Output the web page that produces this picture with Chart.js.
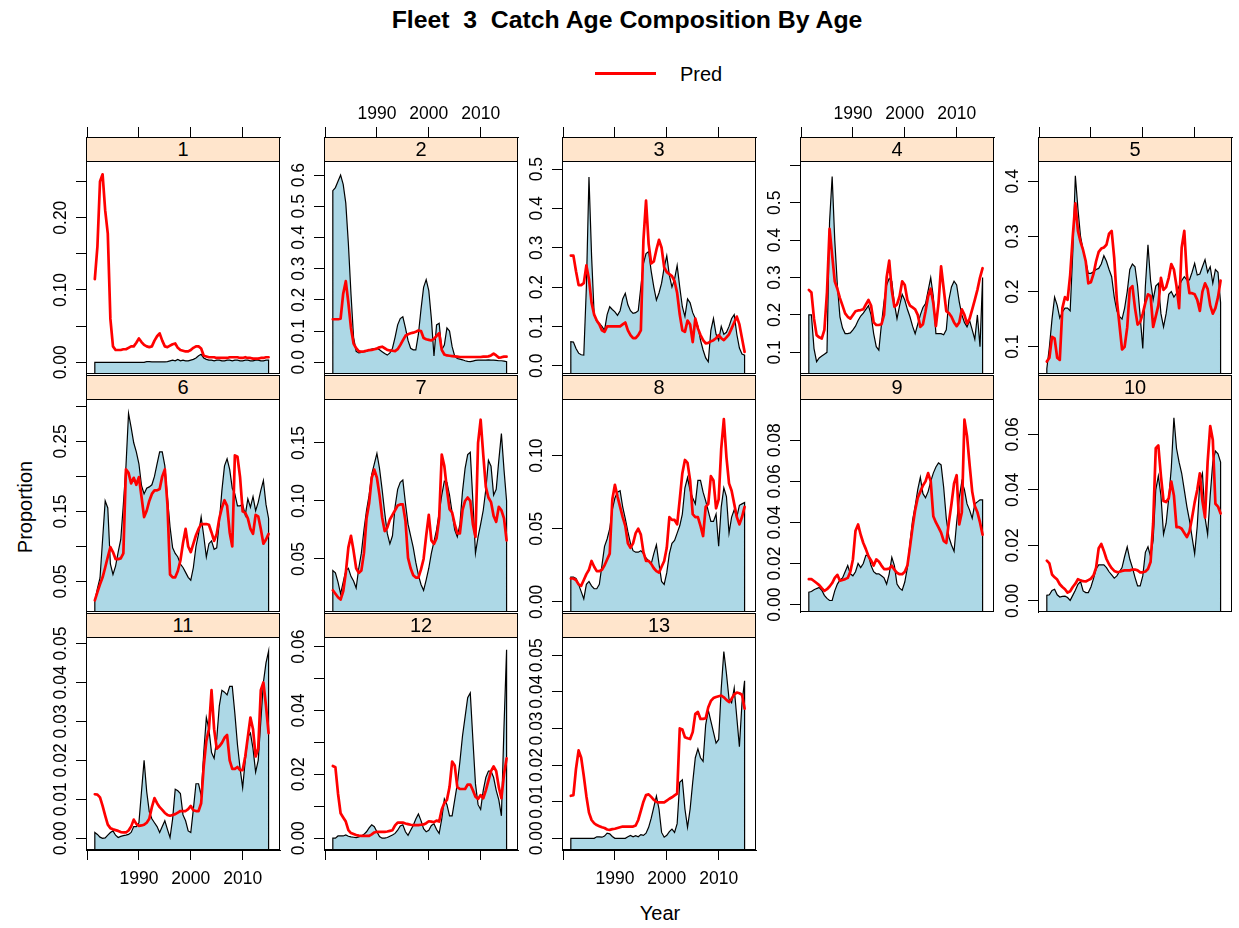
<!DOCTYPE html>
<html>
<head>
<meta charset="utf-8">
<title>Fleet 3 Catch Age Composition By Age</title>
<script src="https://cdn.jsdelivr.net/npm/chart.js@4.4.1/dist/chart.umd.min.js"></script>
<style>
body { margin: 0; background: #fff; font-family: "Liberation Sans", Arial, sans-serif; color: #000; }
#page { position: relative; width: 1239px; height: 928px; overflow: hidden; background: #fff; }
#page canvas { position: absolute; }
.strip { position: absolute; box-sizing: border-box; border: 1px solid #000; background: #FFE5CC;
         font-size: 20px; line-height: 23px; text-align: center; z-index: 2; }
.txt { position: absolute; white-space: pre; transform: translate(-50%, -50%); }
#title { left: 627px; top: 20px; font-size: 24.8px; font-weight: bold; }
#ylab { left: 25px; top: 507px; font-size: 20px; transform: translate(-50%, -50%) rotate(-90deg); }
#xlab { left: 660px; top: 913px; font-size: 20px; }
#legline { position: absolute; left: 595px; top: 72px; width: 61px; height: 2.5px; background: #FF0000; }
#legtxt { left: 701px; top: 74px; font-size: 20px; }
</style>
</head>
<body>
<div id="page">
  <div id="title" class="txt">Fleet  3  Catch Age Composition By Age</div>
  <div id="legline"></div>
  <div id="legtxt" class="txt">Pred</div>
  <div id="ylab" class="txt">Proportion</div>
  <div id="xlab" class="txt">Year</div>
</div>
<script>
// years of the composition samples (half-year steps)
const YEARS = [1981.5,1982,1982.5,1983,1983.5,1984,1984.5,1985,1985.5,1986,
    1986.5,1987,1987.5,1988,1988.5,1989,1989.5,1990,1990.5,1991,
    1991.5,1992,1992.5,1993,1993.5,1994,1994.5,1995,1995.5,1996,
    1996.5,1997,1997.5,1998,1998.5,1999,1999.5,2000,2000.5,2001,
    2001.5,2002,2002.5,2003,2003.5,2004,2004.5,2005,2005.5,2006,
    2006.5,2007,2007.5,2008,2008.5,2009,2009.5,2010,2010.5,2011,
    2011.5,2012,2012.5,2013,2013.5,2014,2014.5,2015]

const AGES = ['1','2','3','4','5','6','7','8','9','10','11','12','13']

/////////////////////////////////////////////////////////
// observed proportions (blue polygons)
const OBS_1 = [0,0,0,0,0,0,0,0,0,0, 0,0,0,0,0,0,0,0,0,0,
    0.001,0.001,0.0005,0.0005,0.0005,0.0005,0.0005,0.0005,0.001,0.002,
    0.003,0.002,0.004,0.002,0.003,0.002,0.002,0.003,0.004,0.006,
    0.009,0.011,0.006,0.004,0.003,0.003,0.002,0.003,0.003,0.002,
    0.002,0.003,0.003,0.002,0.003,0.003,0.002,0.002,0.003,0.003,
    0.002,0.002,0.003,0.003,0.002,0.002,0.003,0.003]
const OBS_2 = [0.55,0.56,0.58,0.6,0.57,0.51,0.38,0.22,0.08,0.035,
    0.03,0.032,0.034,0.035,0.04,0.042,0.044,0.045,0.04,0.034,
    0.028,0.023,0.03,0.045,0.08,0.12,0.14,0.146,0.11,0.07,
    0.045,0.04,0.04,0.09,0.17,0.24,0.265,0.23,0.14,0.02,
    0.12,0.125,0.04,0.055,0.11,0.1,0.05,0.02,0.012,0.01,
    0.008,0.005,0.003,0.002,0.004,0.006,0.007,0.007,0.007,0.007,
    0.008,0.007,0.007,0.006,0.005,0.005,0.004,0.002]
const OBS_3 = [0.061,0.06,0.044,0.032,0.028,0.027,0.2,0.48,0.28,0.13,
    0.112,0.108,0.1,0.09,0.13,0.15,0.143,0.137,0.128,0.14,
    0.17,0.184,0.155,0.14,0.133,0.135,0.14,0.2,0.26,0.285,
    0.29,0.24,0.2,0.167,0.185,0.21,0.25,0.28,0.23,0.2,
    0.22,0.255,0.2,0.15,0.125,0.17,0.16,0.135,0.12,0.1,
    0.065,0.04,0.02,0.01,0.09,0.12,0.08,0.065,0.1,0.08,
    0.085,0.1,0.12,0.13,0.08,0.045,0.03,0.027]
const OBS_4 = [0.2,0.2,0.11,0.075,0.085,0.09,0.095,0.1,0.45,0.57,
    0.4,0.28,0.195,0.165,0.15,0.15,0.152,0.16,0.17,0.185,
    0.197,0.205,0.215,0.225,0.2,0.15,0.115,0.106,0.175,0.235,
    0.28,0.298,0.29,0.23,0.19,0.225,0.255,0.24,0.215,0.195,
    0.17,0.15,0.175,0.2,0.22,0.23,0.265,0.3,0.249,0.15,
    0.15,0.15,0.147,0.16,0.24,0.275,0.29,0.28,0.235,0.2,
    0.18,0.168,0.185,0.16,0.135,0.2,0.115,0.3]
const OBS_5 = [0.06,0.1,0.15,0.19,0.175,0.152,0.163,0.17,0.17,0.165,
    0.27,0.41,0.35,0.3,0.275,0.255,0.233,0.233,0.236,0.24,
    0.242,0.25,0.265,0.255,0.24,0.227,0.19,0.165,0.155,0.15,
    0.17,0.2,0.24,0.25,0.245,0.21,0.155,0.097,0.21,0.285,
    0.22,0.185,0.21,0.215,0.16,0.136,0.16,0.195,0.2,0.19,
    0.197,0.21,0.22,0.227,0.221,0.221,0.235,0.251,0.23,0.232,
    0.245,0.258,0.235,0.245,0.215,0.24,0.235,0.18]
const OBS_6 = [0.022,0.04,0.055,0.11,0.165,0.155,0.075,0.06,0.072,0.092,
    0.11,0.16,0.214,0.29,0.27,0.248,0.235,0.218,0.187,0.175,
    0.183,0.185,0.188,0.2,0.218,0.235,0.235,0.215,0.17,0.128,
    0.098,0.09,0.085,0.075,0.07,0.063,0.056,0.052,0.07,0.1,
    0.118,0.142,0.115,0.085,0.104,0.108,0.096,0.098,0.135,0.18,
    0.215,0.225,0.21,0.183,0.175,0.158,0.158,0.16,0.145,0.168,
    0.156,0.171,0.151,0.163,0.18,0.194,0.16,0.14]
const OBS_7 = [0.04,0.038,0.03,0.02,0.03,0.04,0.042,0.035,0.031,0.025,
    0.042,0.055,0.075,0.092,0.105,0.123,0.132,0.141,0.128,0.11,
    0.09,0.072,0.063,0.07,0.095,0.11,0.116,0.118,0.098,0.08,
    0.07,0.06,0.047,0.036,0.028,0.023,0.032,0.042,0.055,0.065,
    0.075,0.09,0.105,0.117,0.116,0.105,0.09,0.075,0.069,0.08,
    0.108,0.128,0.14,0.142,0.1,0.055,0.069,0.08,0.092,0.11,
    0.135,0.13,0.105,0.11,0.135,0.158,0.127,0.1]
const OBS_8 = [0.017,0.017,0.016,0.012,0.007,0.002,0.012,0.014,0.011,0.009,
    0.009,0.012,0.025,0.038,0.043,0.05,0.063,0.071,0.075,0.076,
    0.065,0.057,0.048,0.04,0.035,0.034,0.034,0.035,0.033,0.03,
    0.028,0.026,0.033,0.039,0.026,0.014,0.012,0.02,0.033,0.04,
    0.042,0.047,0.052,0.06,0.078,0.085,0.076,0.071,0.067,0.083,
    0.083,0.075,0.069,0.062,0.055,0.055,0.06,0.038,0.065,0.078,
    0.072,0.047,0.058,0.063,0.058,0.066,0.067,0.068]
const OBS_9 = [0.006,0.0064,0.0072,0.0078,0.0083,0.007,0.0045,0.003,0.002,0.002,
    0.0067,0.01,0.012,0.013,0.016,0.019,0.015,0.014,0.016,0.02,
    0.018,0.02,0.024,0.024,0.019,0.016,0.015,0.015,0.014,0.013,
    0.01,0.015,0.023,0.019,0.01,0.008,0.007,0.011,0.018,0.03,
    0.041,0.048,0.056,0.062,0.054,0.052,0.055,0.06,0.064,0.067,
    0.069,0.068,0.057,0.042,0.033,0.029,0.026,0.04,0.052,0.06,
    0.056,0.049,0.046,0.042,0.049,0.05,0.051,0.051]
const OBS_10 = [0.002,0.0022,0.0038,0.0042,0.0022,0.0014,0.0016,0.0017,0.0012,0.0002,
    0.002,0.0038,0.006,0.007,0.0036,0.003,0.003,0.005,0.008,0.0115,
    0.013,0.013,0.013,0.012,0.0105,0.0094,0.0082,0.009,0.0105,0.012,
    0.016,0.0195,0.015,0.012,0.0085,0.0054,0.0054,0.009,0.0175,0.0195,
    0.016,0.022,0.04,0.045,0.038,0.024,0.028,0.037,0.048,0.066,
    0.055,0.05,0.046,0.04,0.034,0.029,0.023,0.017,0.027,0.043,
    0.046,0.03,0.024,0.038,0.05,0.054,0.053,0.05]
const OBS_11 = [0.0015,0.001,0.0003,0,0.0001,0.0008,0.0015,0.0019,0.0008,0.0002,
    0.0005,0.0007,0.0008,0.001,0.0015,0.003,0.003,0.004,0.012,0.02,
    0.012,0.0068,0.005,0.004,0.003,0.0015,0.003,0.0045,0.0023,0.0002,
    0.005,0.0126,0.0122,0.0115,0.006,0.0045,0.0019,0.0015,0.0075,0.014,
    0.014,0.011,0.022,0.031,0.028,0.022,0.0205,0.0255,0.034,0.038,
    0.0375,0.0368,0.039,0.039,0.032,0.024,0.018,0.013,0.02,0.026,
    0.027,0.023,0.017,0.02,0.03,0.04,0.045,0.048]
const OBS_12 = [0,0,0.0007,0.0007,0.0007,0.001,0.0006,0.0004,0.0003,0.0002,
    0.0004,0.0007,0.0012,0.002,0.0032,0.0042,0.0036,0.002,0.0005,0,
    0,0.0002,0.0006,0.001,0.0015,0.0025,0.0038,0.0042,0.002,0.0009,
    0.0025,0.004,0.006,0.0076,0.0055,0.003,0.002,0.0025,0.004,0.0045,
    0.0027,0.0015,0.006,0.0123,0.0105,0.007,0.007,0.012,0.017,0.024,
    0.032,0.038,0.044,0.0455,0.031,0.017,0.0105,0.009,0.015,0.019,
    0.021,0.021,0.019,0.015,0.012,0.007,0.035,0.059]
const OBS_13 = [0,0,0,0,0,0,0,0,0,0,
    0.0004,0.0004,0.0003,0.0006,0.0014,0.0012,0.0005,0,0,0,
    0,0,0.0004,0.0008,0.0004,0.0007,0.0004,0.001,0.0008,0.0014,
    0.003,0.0055,0.0085,0.0115,0.008,0.0016,0.0003,0.0008,0.0018,0.0025,
    0.0016,0.004,0.0153,0.016,0.008,0.003,0.008,0.0153,0.022,0.0244,
    0.022,0.021,0.031,0.035,0.032,0.029,0.026,0.027,0.041,0.051,
    0.045,0.038,0.037,0.041,0.033,0.025,0.037,0.043]

// predicted proportions (red lines)
const PRED_1 = [0.115,0.16,0.25,0.26,0.21,0.178,0.06,0.022,0.017,0.017,
    0.017,0.018,0.018,0.02,0.022,0.022,0.027,0.033,0.028,0.024,
    0.022,0.021,0.022,0.03,0.036,0.04,0.03,0.022,0.021,0.023,
    0.025,0.026,0.02,0.017,0.016,0.015,0.015,0.017,0.02,0.022,
    0.022,0.019,0.009,0.008,0.007,0.007,0.007,0.006,0.006,0.006,
    0.006,0.006,0.007,0.007,0.007,0.007,0.006,0.006,0.007,0.006,
    0.006,0.005,0.005,0.005,0.006,0.006,0.007,0.007]
const PRED_2 = [0.138,0.138,0.138,0.14,0.22,0.26,0.19,0.11,0.06,0.045,
    0.036,0.034,0.035,0.037,0.039,0.04,0.042,0.044,0.048,0.05,
    0.045,0.04,0.038,0.037,0.036,0.042,0.055,0.07,0.085,0.09,
    0.093,0.095,0.098,0.102,0.1,0.078,0.074,0.072,0.07,0.075,
    0.085,0.093,0.04,0.025,0.022,0.021,0.02,0.019,0.018,0.017,
    0.017,0.017,0.017,0.017,0.017,0.017,0.017,0.017,0.018,0.018,
    0.019,0.022,0.028,0.022,0.015,0.016,0.018,0.018]
const PRED_3 = [0.28,0.28,0.24,0.205,0.205,0.21,0.255,0.22,0.16,0.13,
    0.115,0.105,0.09,0.086,0.1,0.1,0.1,0.1,0.1,0.1,
    0.105,0.11,0.09,0.078,0.07,0.07,0.078,0.09,0.32,0.42,
    0.31,0.26,0.265,0.295,0.32,0.3,0.25,0.238,0.233,0.228,
    0.215,0.185,0.13,0.09,0.086,0.115,0.105,0.06,0.12,0.095,
    0.078,0.065,0.057,0.058,0.062,0.065,0.07,0.078,0.07,0.065,
    0.072,0.08,0.095,0.11,0.125,0.105,0.07,0.035]
const PRED_4 = [0.267,0.26,0.19,0.146,0.14,0.137,0.16,0.26,0.43,0.36,
    0.29,0.27,0.245,0.225,0.204,0.195,0.19,0.2,0.21,0.212,
    0.213,0.215,0.228,0.24,0.225,0.18,0.173,0.173,0.175,0.2,
    0.3,0.345,0.265,0.222,0.228,0.25,0.29,0.28,0.24,0.225,
    0.22,0.215,0.2,0.168,0.175,0.21,0.25,0.27,0.231,0.17,
    0.231,0.33,0.27,0.21,0.205,0.195,0.18,0.17,0.18,0.215,
    0.2,0.177,0.19,0.215,0.24,0.267,0.3,0.325]
const PRED_5 = [0.073,0.08,0.118,0.115,0.08,0.076,0.17,0.19,0.185,0.23,
    0.3,0.36,0.31,0.29,0.275,0.255,0.215,0.217,0.232,0.255,
    0.272,0.278,0.28,0.285,0.305,0.31,0.26,0.185,0.14,0.095,
    0.1,0.135,0.205,0.21,0.17,0.14,0.145,0.16,0.18,0.195,
    0.192,0.136,0.155,0.175,0.225,0.203,0.208,0.225,0.25,0.24,
    0.21,0.17,0.28,0.31,0.23,0.197,0.197,0.195,0.185,0.165,
    0.2,0.215,0.205,0.175,0.16,0.17,0.19,0.22]
const PRED_6 = [0.023,0.035,0.046,0.056,0.07,0.085,0.099,0.092,0.082,0.082,
    0.083,0.09,0.21,0.205,0.19,0.198,0.188,0.199,0.171,0.142,
    0.151,0.165,0.175,0.18,0.18,0.182,0.2,0.21,0.16,0.06,
    0.056,0.056,0.065,0.08,0.105,0.125,0.1,0.092,0.104,0.116,
    0.125,0.132,0.132,0.132,0.131,0.12,0.108,0.118,0.14,0.155,
    0.166,0.158,0.12,0.1,0.23,0.228,0.199,0.15,0.148,0.14,
    0.125,0.118,0.145,0.143,0.125,0.104,0.11,0.118]
const PRED_7 = [0.023,0.02,0.017,0.015,0.022,0.038,0.06,0.07,0.057,0.042,
    0.038,0.04,0.055,0.085,0.098,0.12,0.127,0.12,0.105,0.086,
    0.074,0.077,0.084,0.088,0.092,0.096,0.097,0.097,0.083,0.051,
    0.042,0.036,0.034,0.034,0.041,0.05,0.07,0.088,0.066,0.063,
    0.068,0.085,0.14,0.13,0.11,0.093,0.09,0.08,0.072,0.072,
    0.092,0.1,0.103,0.1,0.08,0.069,0.15,0.17,0.14,0.112,
    0.103,0.099,0.087,0.082,0.095,0.092,0.085,0.066]
const PRED_8 = [0.016,0.016,0.015,0.012,0.011,0.015,0.019,0.022,0.028,0.024,
    0.021,0.021,0.022,0.025,0.029,0.033,0.07,0.08,0.072,0.065,
    0.058,0.052,0.04,0.037,0.04,0.047,0.05,0.046,0.034,0.028,
    0.028,0.026,0.023,0.021,0.02,0.024,0.028,0.037,0.058,0.056,
    0.056,0.053,0.07,0.088,0.097,0.095,0.083,0.06,0.058,0.058,
    0.052,0.045,0.065,0.067,0.086,0.083,0.064,0.07,0.105,0.125,
    0.099,0.081,0.076,0.067,0.058,0.053,0.058,0.065]
const PRED_9 = [0.0124,0.0124,0.0115,0.0105,0.0095,0.008,0.0067,0.0075,0.0088,0.0105,
    0.013,0.0145,0.0116,0.012,0.0124,0.013,0.016,0.022,0.036,0.039,
    0.034,0.03,0.027,0.0235,0.0215,0.019,0.022,0.021,0.019,0.0173,
    0.0173,0.0175,0.0189,0.017,0.0155,0.0148,0.0148,0.016,0.019,0.028,
    0.0376,0.046,0.052,0.055,0.058,0.06,0.064,0.06,0.043,0.04,
    0.0376,0.035,0.031,0.03,0.04,0.049,0.059,0.063,0.039,0.045,
    0.09,0.082,0.068,0.055,0.048,0.045,0.04,0.034]
const PRED_10 = [0.0145,0.0135,0.0095,0.0085,0.0077,0.006,0.005,0.0042,0.003,0.0035,
    0.005,0.0062,0.0078,0.0074,0.0071,0.007,0.0075,0.008,0.0092,0.012,
    0.019,0.0205,0.018,0.0151,0.0132,0.0118,0.0108,0.0104,0.0105,0.0108,
    0.011,0.011,0.011,0.0113,0.0113,0.011,0.0103,0.0103,0.0106,0.0115,
    0.014,0.028,0.055,0.056,0.045,0.036,0.0356,0.037,0.043,0.038,
    0.0266,0.0266,0.026,0.0245,0.023,0.025,0.03,0.0355,0.04,0.046,
    0.036,0.03,0.05,0.063,0.058,0.035,0.034,0.0315]
const PRED_11 = [0.0113,0.0112,0.0105,0.0083,0.0058,0.0035,0.0026,0.0023,0.0021,0.0019,
    0.0016,0.0015,0.0015,0.002,0.003,0.0048,0.0037,0.0032,0.0033,0.0035,
    0.004,0.005,0.008,0.0103,0.009,0.008,0.0073,0.0065,0.006,0.0058,
    0.006,0.0062,0.0066,0.007,0.007,0.007,0.0075,0.0083,0.0072,0.007,
    0.007,0.009,0.0186,0.025,0.028,0.038,0.028,0.023,0.0236,0.0245,
    0.0258,0.0265,0.02,0.0178,0.0178,0.0183,0.0175,0.0175,0.021,0.026,
    0.031,0.028,0.021,0.023,0.038,0.04,0.034,0.027]
const PRED_12 = [0.0226,0.0222,0.014,0.0078,0.0065,0.0052,0.0025,0.0016,0.0013,0.001,
    0.0008,0.0007,0.0007,0.0007,0.0007,0.0012,0.0018,0.002,0.002,0.002,
    0.002,0.0021,0.0023,0.0025,0.004,0.0049,0.0049,0.0049,0.0046,0.0044,
    0.0042,0.0041,0.0041,0.0041,0.0042,0.0043,0.0047,0.0053,0.0052,0.005,
    0.0055,0.0052,0.009,0.011,0.012,0.016,0.024,0.0228,0.016,0.0154,
    0.0154,0.0154,0.0168,0.0168,0.015,0.013,0.0123,0.0135,0.0125,0.015,
    0.018,0.021,0.0225,0.021,0.016,0.0125,0.02,0.025]
const PRED_13 = [0.0116,0.0118,0.019,0.024,0.022,0.017,0.0115,0.007,0.005,0.0041,
    0.0036,0.0033,0.003,0.0028,0.0024,0.0023,0.0025,0.0026,0.0028,0.003,
    0.0032,0.0032,0.0032,0.0032,0.0032,0.0035,0.005,0.0075,0.01,0.0118,
    0.012,0.0113,0.0105,0.0099,0.0098,0.0098,0.0098,0.0103,0.0108,0.0112,
    0.0117,0.0122,0.03,0.0297,0.0276,0.0273,0.0271,0.029,0.034,0.0345,
    0.0326,0.0326,0.0328,0.0358,0.0375,0.0383,0.0386,0.0388,0.039,0.0385,
    0.0378,0.0372,0.0381,0.0393,0.0398,0.0396,0.0392,0.0354]

const OBS = [OBS_1, OBS_2, OBS_3, OBS_4, OBS_5, OBS_6, OBS_7, OBS_8, OBS_9, OBS_10, OBS_11, OBS_12, OBS_13]
const PRED = [PRED_1, PRED_2, PRED_3, PRED_4, PRED_5, PRED_6, PRED_7, PRED_8, PRED_9, PRED_10, PRED_11, PRED_12, PRED_13]

// per panel y ranges (free scales) and tick labels
const Y_MIN = [-0.0162, -0.0375, -0.021, 0.042, 0.0505, 0.0065, 0.0043, -0.0069, -0.0036, -0.004, -0.003, -0.0037, -0.0032]
const Y_MAX = [0.277, 0.642, 0.518, 0.609, 0.435, 0.309, 0.187, 0.138, 0.0996, 0.0724, 0.0514, 0.0627, 0.0547]
const Y_TICKS = [
    [0, 0.05, 0.1, 0.15, 0.2, 0.25],
    [0, 0.1, 0.2, 0.3, 0.4, 0.5, 0.6],
    [0, 0.1, 0.2, 0.3, 0.4, 0.5],
    [0.1, 0.2, 0.3, 0.4, 0.5, 0.6],
    [0.1, 0.2, 0.3, 0.4],
    [0.05, 0.1, 0.15, 0.2, 0.25, 0.3],
    [0.05, 0.1, 0.15],
    [0, 0.05, 0.1],
    [0, 0.02, 0.04, 0.06, 0.08],
    [0, 0.02, 0.04, 0.06],
    [0, 0.01, 0.02, 0.03, 0.04, 0.05],
    [0, 0.01, 0.02, 0.03, 0.04, 0.05, 0.06],
    [0, 0.01, 0.02, 0.03, 0.04, 0.05]
]
const Y_LABELS = [
    ['0.00', '', '0.10', '', '0.20', ''],
    ['0.0', '0.1', '0.2', '0.3', '0.4', '0.5', '0.6'],
    ['0.0', '0.1', '0.2', '0.3', '0.4', '0.5'],
    ['0.1', '0.2', '0.3', '0.4', '0.5', ''],
    ['0.1', '0.2', '0.3', '0.4'],
    ['0.05', '', '0.15', '', '0.25', ''],
    ['0.05', '0.10', '0.15'],
    ['0.00', '0.05', '0.10'],
    ['0.00', '0.02', '0.04', '0.06', '0.08'],
    ['0.00', '0.02', '0.04', '0.06'],
    ['0.00', '0.01', '0.02', '0.03', '0.04', '0.05'],
    ['0.00', '', '0.02', '', '0.04', '', '0.06'],
    ['0.00', '0.01', '0.02', '0.03', '0.04', '0.05']
]
const X_MIN = 1979.8, X_MAX = 2017.2
const X_TICKS = [1980, 1990, 2000, 2010]
const X_LABELS = ['', '1990', '2000', '2010']
const X_LABEL_PANELS = [2, 4, 11, 13]   // lattice alternates the labelled sides

//////////////////////////////////////////////////////////////////////////////
// layout
const COL_LEFT = [86, 324, 562, 800, 1038]
const ROW_TOP = [137, 375, 613]
const PANEL_W = 194, STRIP_H = 25, PLOT_H = 212
const MARGIN = 60, BOTTOM_M = 50, RIGHT_M = 4
const TICK_LEN = 10, LABEL_OFFSET = 25
const FONT_FAMILY = "'Liberation Sans', Arial, sans-serif"
const TICK_FONT = 17.5

const measure = document.createElement('canvas').getContext('2d')
measure.font = TICK_FONT + 'px ' + FONT_FAMILY

const boxPlugin = {
    id: 'panelBox',
    afterDraw(chart) {
        const a = chart.chartArea
        const ctx = chart.ctx
        ctx.save()
        ctx.strokeStyle = '#000'
        ctx.lineWidth = 1
        ctx.strokeRect(a.left + 0.5, a.top + 0.5, a.right - a.left - 1, a.bottom - a.top - 1)
        ctx.restore()
    }
}

function makePanel(i) {
    const row = Math.floor(i / 5), col = i % 5
    const page = document.getElementById('page')
    const hasTop = row === 0, hasBottom = row === 2
    const showXLabels = X_LABEL_PANELS.includes(i + 1)

    const cv = document.createElement('canvas')
    cv.width = MARGIN + PANEL_W + RIGHT_M
    cv.height = MARGIN + STRIP_H + PLOT_H + BOTTOM_M
    cv.style.left = (COL_LEFT[col] - MARGIN) + 'px'
    cv.style.top = (ROW_TOP[row] - MARGIN) + 'px'
    cv.style.width = cv.width + 'px'
    cv.style.height = cv.height + 'px'
    page.appendChild(cv)

    const strip = document.createElement('div')
    strip.className = 'strip'
    strip.style.left = COL_LEFT[col] + 'px'
    strip.style.top = ROW_TOP[row] + 'px'
    strip.style.width = PANEL_W + 'px'
    strip.style.height = STRIP_H + 'px'
    strip.textContent = AGES[i]
    page.appendChild(strip)

    const yMin = Y_MIN[i]
    // extend the top of the scale so the strip sits inside the panel box
    const yTop = Y_MAX[i] + (Y_MAX[i] - yMin) * STRIP_H / PLOT_H
    const widest = Math.max(...Y_LABELS[i].map(t => measure.measureText(t).width))
    const yPad = LABEL_OFFSET - TICK_LEN - widest / 2

    const obsPts = [{ x: YEARS[0], y: yMin }]
        .concat(OBS[i].map((v, k) => ({ x: YEARS[k], y: v })))
        .concat([{ x: YEARS[YEARS.length - 1], y: yMin }])
    const predPts = PRED[i].map((v, k) => ({ x: YEARS[k], y: v }))

    new Chart(cv, {
        type: 'line',
        data: {
            datasets: [
                {
                    label: 'Pred',
                    data: predPts,
                    borderColor: '#FF0000',
                    borderWidth: 2.7,
                    borderJoinStyle: 'round',
                    borderCapStyle: 'round',
                    pointRadius: 0,
                    fill: false,
                    tension: 0,
                    order: 1
                },
                {
                    label: 'Obs',
                    data: obsPts,
                    borderColor: '#000000',
                    borderWidth: 1.2,
                    backgroundColor: '#ADD8E6',
                    pointRadius: 0,
                    fill: 'start',
                    tension: 0,
                    order: 2
                }
            ]
        },
        options: {
            responsive: false,
            animation: false,
            devicePixelRatio: 1,
            layout: { padding: { left: 0, right: RIGHT_M, top: hasTop ? 0 : MARGIN, bottom: hasBottom ? 0 : BOTTOM_M } },
            plugins: { legend: { display: false }, tooltip: { enabled: false } },
            scales: {
                x: {
                    type: 'linear',
                    min: X_MIN,
                    max: X_MAX,
                    position: hasTop ? 'top' : 'bottom',
                    display: hasTop || hasBottom,
                    afterBuildTicks: s => { s.ticks = X_TICKS.map(v => ({ value: v })) },
                    afterFit: s => { if (hasTop) s.height = MARGIN; else if (hasBottom) s.height = BOTTOM_M },
                    ticks: {
                        autoSkip: false,
                        maxRotation: 0,
                        padding: hasTop ? 2 : 9,
                        color: '#000',
                        font: { family: FONT_FAMILY, size: TICK_FONT },
                        callback: (v, idx) => showXLabels ? X_LABELS[idx] : ''
                    },
                    grid: { drawOnChartArea: false, drawTicks: true, tickLength: TICK_LEN, color: '#000' },
                    border: { display: true, color: '#000' }
                },
                y: {
                    type: 'linear',
                    min: yMin,
                    max: yTop,
                    bounds: 'data',
                    afterBuildTicks: s => { s.ticks = Y_TICKS[i].map(v => ({ value: v })) },
                    afterFit: s => { s.width = MARGIN },
                    ticks: {
                        autoSkip: false,
                        minRotation: 90,
                        maxRotation: 90,
                        crossAlign: 'center',
                        padding: yPad,
                        color: '#000',
                        font: { family: FONT_FAMILY, size: TICK_FONT },
                        callback: (v, idx) => Y_LABELS[i][idx]
                    },
                    grid: { drawOnChartArea: false, drawTicks: true, tickLength: TICK_LEN, color: '#000' },
                    border: { display: true, color: '#000' }
                }
            }
        },
        plugins: [boxPlugin]
    })
}

document.addEventListener('DOMContentLoaded', () => {
    for (let i = 0; i < AGES.length; i++) makePanel(i)
})
</script>
</body>
</html>
